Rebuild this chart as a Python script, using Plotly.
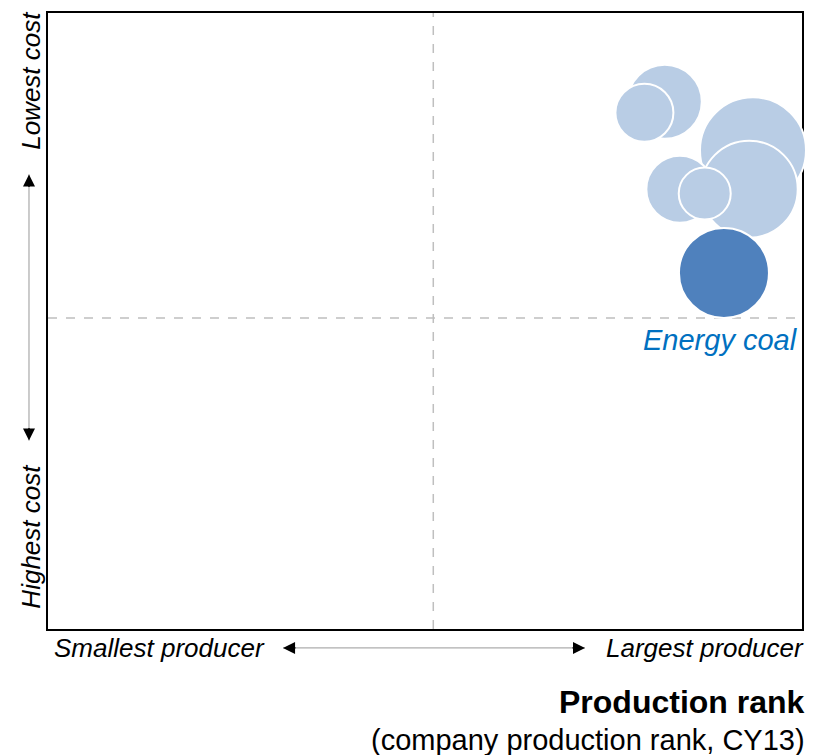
import plotly.graph_objects as go

# Peer bubbles (light) drawn back-to-front
peer_rank = [81.8, 79.1, 93.5, 83.8, 93.0, 87.1]
peer_cost = [85.6, 83.8, 77.7, 71.4, 71.4, 70.7]
peer_size = [74, 58, 106, 67, 97, 52]

# Highlighted business
hl_name = "Energy coal"
hl_rank = [89.65]
hl_cost = [57.8]
hl_size = [90]

mid_x = 51.1
mid_y = 50.5

FONT = "Arial, Liberation Sans, sans-serif"
LIGHT = "#b9cde5"
DARK = "#4f81bd"

fig = go.Figure()
fig.add_trace(go.Scatter(
    x=peer_rank, y=peer_cost, mode="markers",
    marker=dict(size=peer_size, sizemode="diameter", color=LIGHT,
                opacity=1, line=dict(color="white", width=2)),
    cliponaxis=False, hoverinfo="skip", showlegend=False))
fig.add_trace(go.Scatter(
    x=hl_rank, y=hl_cost, mode="markers", name=hl_name,
    marker=dict(size=hl_size, sizemode="diameter", color=DARK,
                opacity=1, line=dict(color="white", width=2)),
    cliponaxis=False, hoverinfo="skip", showlegend=False))

# quadrant dashed lines
fig.add_shape(type="line", x0=mid_x, x1=mid_x, y0=0, y1=100, xref="x", yref="y",
              line=dict(color="#bfbfbf", width=1.5, dash="dash"), layer="below")
fig.add_shape(type="line", x0=0, x1=100, y0=mid_y, y1=mid_y, xref="x", yref="y",
              line=dict(color="#bfbfbf", width=1.5, dash="dash"), layer="below")

# arrow shafts
fig.add_shape(type="line", x0=0.3117, x1=0.7122, y0=-0.0307, y1=-0.0307,
              xref="paper", yref="paper", line=dict(color="#999999", width=1))
fig.add_shape(type="line", x0=-0.0252, x1=-0.0252, y0=0.306, y1=0.738,
              xref="paper", yref="paper", line=dict(color="#999999", width=1))

ann = []
# arrowheads
for (x, y, ax, ay) in [(0.3117, -0.0307, 14, 0), (0.7122, -0.0307, -14, 0),
                       (-0.0252, 0.738, 0, 14), (-0.0252, 0.306, 0, -14)]:
    ann.append(dict(x=x, y=y, xref="paper", yref="paper", ax=ax, ay=ay, text="",
                    showarrow=True, arrowhead=2, arrowsize=1.85, arrowwidth=1.3,
                    arrowcolor="black"))

it = dict(family=FONT, size=26, color="black")
ann += [
    dict(x=-0.0225, y=0.89, xref="paper", yref="paper", text="<i>Lowest cost</i>",
         textangle=-90, showarrow=False, font=it, xanchor="center", yanchor="middle"),
    dict(x=-0.0225, y=0.150, xref="paper", yref="paper", text="<i>Highest cost</i>",
         textangle=-90, showarrow=False, font=it, xanchor="center", yanchor="middle"),
    dict(x=0.148, y=-0.0307, xref="paper", yref="paper", text="<i>Smallest producer</i>",
         showarrow=False, font=it, xanchor="center", yanchor="middle"),
    dict(x=1.005, y=-0.0307, xref="paper", yref="paper", text="<i>Largest producer</i>",
         showarrow=False, font=it, xanchor="right", yanchor="middle"),
    dict(x=1.006, y=-0.118, xref="paper", yref="paper", text="<b>Production rank</b>",
         showarrow=False, font=dict(family=FONT, size=32, color="black"),
         xanchor="right", yanchor="middle"),
    dict(x=1.006, y=-0.180, xref="paper", yref="paper",
         text="(company production rank, CY13)",
         showarrow=False, font=dict(family=FONT, size=29, color="black"),
         xanchor="right", yanchor="middle"),
    dict(x=0.997, y=0.469, xref="paper", yref="paper", text="<i>" + hl_name + "</i>",
         showarrow=False, font=dict(family=FONT, size=29, color="#0070c0"),
         xanchor="right", yanchor="middle"),
]

# page has an 8px body margin, so the figure is shrunk and shifted by it
fig.update_layout(
    width=809, height=747,
    margin=dict(l=40, r=15, t=3, b=126),
    plot_bgcolor="white", paper_bgcolor="white",
    annotations=ann, showlegend=False,
    xaxis=dict(range=[0, 100], showgrid=False, zeroline=False, showticklabels=False,
               ticks="", showline=True, mirror=True, linecolor="black", linewidth=2,
               layer="below traces", fixedrange=True),
    yaxis=dict(range=[0, 100], showgrid=False, zeroline=False, showticklabels=False,
               ticks="", showline=True, mirror=True, linecolor="black", linewidth=2,
               layer="below traces", fixedrange=True),
)

fig.write_html("out.html")
